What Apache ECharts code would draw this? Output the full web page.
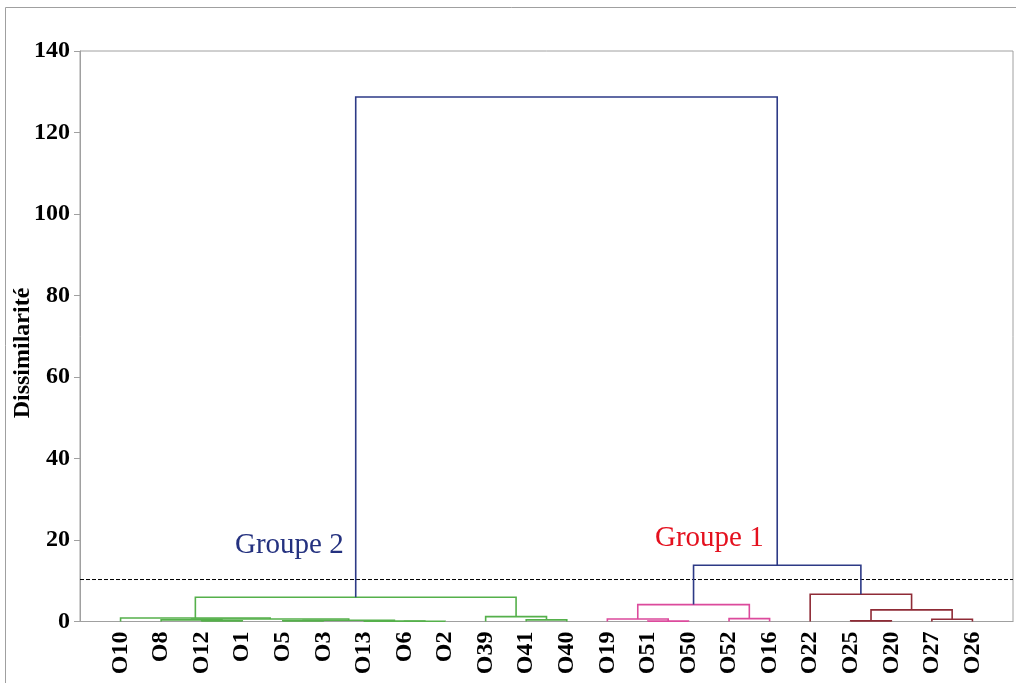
<!DOCTYPE html>
<html>
<head>
<meta charset="utf-8">
<script src="https://cdn.jsdelivr.net/npm/echarts@6/dist/echarts.min.js"></script>
<style>
  html, body { margin: 0; padding: 0; background: #fff; }
  #chart { width: 1016px; height: 683px; }
</style>
</head>
<body>
<div id="chart"></div>
<script>
// Leaves of the dendrogram, in display order
const leaves = ['O10','O8','O12','O1','O5','O3','O13','O6','O2','O39','O41','O40',
                'O19','O51','O50','O52','O16','O22','O25','O20','O27','O26'];
// Sub-cluster each leaf belongs to (0: green, 1: pink, 2: dark red)
const leafCluster = [0,0,0,0,0,0,0,0,0,0,0,0, 1,1,1,1,1, 2,2,2,2,2];
// Agglomeration steps: [nodeA, nodeB, dissimilarity]
// Node ids 0..21 are leaves, id 22+k is the node created by step k
const merges = [
  [7, 8, 0.05],    // 22
  [6, 22, 0.1],    // 23
  [4, 5, 0.15],    // 24
  [2, 3, 0.15],    // 25
  [13, 14, 0.1],   // 26
  [18, 19, 0.15],  // 27
  [24, 23, 0.3],   // 28
  [1, 25, 0.4],    // 29
  [10, 11, 0.4],   // 30
  [20, 21, 0.55],  // 31
  [29, 28, 0.6],   // 32
  [12, 26, 0.6],   // 33
  [15, 16, 0.7],   // 34
  [0, 32, 0.85],   // 35
  [9, 30, 1.2],    // 36
  [27, 31, 2.85],  // 37
  [33, 34, 4.15],  // 38
  [35, 36, 5.95],  // 39
  [17, 37, 6.7],   // 40
  [38, 40, 13.8],  // 41
  [39, 41, 128.7]  // 42
];
// Truncation level of the tree
const cutLevel = 10.3;
const yMin = 0, yMax = 140, yStep = 20;
const yTitle = 'Dissimilarité';
const groupLabels = ['Groupe 2', 'Groupe 1'];

const clusterColors = ['#55b04b', '#dc4a9c', '#8f2b36'];
const joinColor = '#2d3a86';
const serif = '"Liberation Serif", "Times New Roman", serif';

// Build the U-shaped links from the merge table
const pos = leaves.map((_, i) => i + 1);
const hgt = leaves.map(() => 0);
const clu = leafCluster.slice();
const links = [];
merges.forEach(([a, b, h]) => {
  const c = clu[a] === clu[b] ? clu[a] : -1;
  links.push([pos[a], hgt[a], pos[b], hgt[b], h, c]);
  pos.push((pos[a] + pos[b]) / 2);
  hgt.push(h);
  clu.push(c);
});

const chart = echarts.init(document.getElementById('chart'));
chart.setOption({
  animation: false,
  backgroundColor: '#fff',
  grid: {
    left: 80, right: 3, top: 51, bottom: 61.5,
    outerBoundsMode: 'none', containLabel: false,
    show: true, borderColor: '#a0a0a0', borderWidth: 1
  },
  xAxis: {
    type: 'value', min: 0, max: leaves.length + 1, interval: 1,
    splitLine: { show: false },
    axisTick: { show: false },
    axisLine: { show: true, lineStyle: { color: '#a0a0a0', width: 1 } },
    axisLabel: {
      rotate: 90, margin: 10, color: '#000',
      fontFamily: serif, fontWeight: 'bold', fontSize: 24,
      formatter: v => leaves[v - 1] || ''
    }
  },
  yAxis: {
    type: 'value', min: yMin, max: yMax, interval: yStep,
    splitLine: { show: false },
    axisLine: { show: true, lineStyle: { color: '#a0a0a0', width: 1 } },
    axisTick: { show: true, length: 6, lineStyle: { color: '#a0a0a0' } },
    axisLabel: { margin: 10, color: '#000', fontFamily: serif, fontWeight: 'bold', fontSize: 24 }
  },
  series: [
    {
      type: 'line',
      data: [[0, cutLevel], [leaves.length + 1, cutLevel]],
      symbol: 'none', silent: true,
      lineStyle: { color: '#000', width: 1, type: [4, 2] },
      z: 1
    },
    {
      type: 'custom',
      data: links,
      encode: { x: [0, 2], y: [1, 3, 4] },
      z: 2,
      renderItem: (params, api) => {
        const x1 = api.value(0), y1 = api.value(1);
        const x2 = api.value(2), y2 = api.value(3);
        const h = api.value(4), c = api.value(5);
        const pts = [
          api.coord([x1, y1]), api.coord([x1, h]),
          api.coord([x2, h]), api.coord([x2, y2])
        ];
        return {
          type: 'polyline',
          shape: { points: pts },
          style: { stroke: c < 0 ? joinColor : clusterColors[c], lineWidth: 1.6, fill: null }
        };
      }
    }
  ],
  graphic: [
    {
      type: 'rect', silent: true,
      shape: { x: 5.5, y: 7.5, width: 1030, height: 700 },
      style: { fill: null, stroke: '#a0a0a0', lineWidth: 1 }
    },
    {
      type: 'text', x: 23, y: 353, rotation: Math.PI / 2,
      style: {
        text: yTitle, fill: '#000', font: 'bold 24px ' + serif,
        align: 'center', verticalAlign: 'middle'
      }
    },
    {
      type: 'text', left: 235, top: 531,
      style: { text: groupLabels[0], fill: '#24317f', font: '29px ' + serif }
    },
    {
      type: 'text', left: 655, top: 524,
      style: { text: groupLabels[1], fill: '#e4101e', font: '29px ' + serif }
    }
  ]
});
</script>
</body>
</html>
